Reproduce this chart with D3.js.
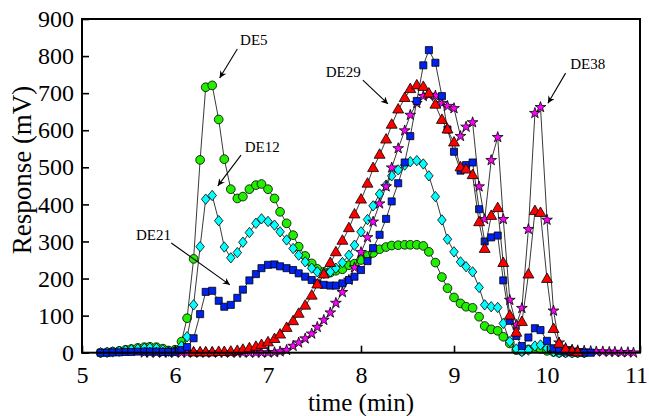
<!DOCTYPE html>
<html>
<head>
<meta charset="utf-8">
<script src="https://cdn.jsdelivr.net/npm/d3@7"></script>
<style>
body { margin: 0; background: #fff; }
svg text { font-family: "Liberation Serif", "Times New Roman", serif; fill: #000; }
</style>
</head>
<body>
<div id="svg-container"></div>
<script>
// sampling times (min)
var times = [5.20, 5.27, 5.33, 5.40, 5.47, 5.53, 5.60, 5.67, 5.73, 5.80, 5.87, 5.93,
	6.00, 6.07, 6.13, 6.20, 6.27, 6.33, 6.40, 6.47, 6.53, 6.60, 6.67, 6.73, 6.80, 6.87, 6.93,
	7.00, 7.07, 7.13, 7.20, 7.27, 7.33, 7.40, 7.47, 7.53, 7.60, 7.67, 7.73, 7.80, 7.87, 7.93,
	8.00, 8.07, 8.13, 8.20, 8.27, 8.33, 8.40, 8.47, 8.53, 8.60, 8.67, 8.73, 8.80, 8.87, 8.93,
	9.00, 9.07, 9.13, 9.20, 9.27, 9.33, 9.40, 9.47, 9.53, 9.60, 9.67, 9.73, 9.80, 9.87, 9.93,
	10.00, 10.07, 10.13, 10.20, 10.27, 10.33, 10.40, 10.47, 10.53, 10.60, 10.67, 10.73, 10.80, 10.87, 10.93];

// responses (mV), null = no point at that time
var de5 = [0, 1, 3, 5, 8, 10, 13, 15, 16, 15, 11, 6,
	8, 30, 93, 253, 520, 716, 721, 629, 522, 441, 416, 421, 441, 452, 455,
	441, 416, 380, 349, 317, 286, 261, 241, 226, 218, 216, 221, 225, 236, 240,
	250, 261, 269, 279, 285, 289, 290, 291, 291, 291, 288, 272, 243, 204, 174,
	149, 133, 124, 121, 97, 72, 63, 59, 43, 25, 7, 4, 9, 12, 10,
	5, 2, 0, 0, 0, 0, 0, null, null, null, null, null, null, null, null];

var de12 = [0, 1, 2, 4, 6, 8, 10, 12, 13, 12, 8, 4,
	5, 18, 43, 129, 286, 414, 424, 356, 285, 256, 270, 298, 324, 349, 361,
	354, 344, 326, 304, 281, 263, 245, 228, 218, 214, 218, 228, 243, 263, 290,
	326, 359, 396, 428, 452, 477, 493, 506, 515, 518, 509, 477, 421, 358, 306,
	272, 245, 232, 218, 176, 129, 124, 122, 79, 30, 10, 3, 7, 18, 21,
	12, 3, 0, 0, 0, 0, 0, null, null, null, null, null, null, null, null];

var de21 = [0, 0, 1, 1, 2, 2, 3, 3, 3, 3, 2, 2,
	3, 7, 15, 39, 104, 164, 167, 140, 124, 129, 148, 170, 195, 212, 228,
	237, 238, 233, 228, 223, 214, 205, 196, 187, 183, 181, 181, 187, 196, 205,
	223, 247, 282, 318, 361, 408, 457, 513, 584, 679, 775, 816, 782, 692, 602,
	542, 491, 506, 513, 387, 300, 311, 316, 195, 86, 45, 18, 41, 66, 61,
	32, 12, 5, 3, 2, 1, 0, 0, null, null, null, null, null, null, null];

var de29 = [null, null, null, null, null, null, null, null, null, null, null, null,
	null, null, null, 0, 0, 0, 0, 1, 1, 2, 4, 7, 11, 15, 20,
	27, 36, 48, 66, 84, 104, 126, 153, 183, 210, 241, 270, 301, 335, 372,
	412, 455, 497, 533, 574, 614, 655, 686, 710, 720, 716, 698, 668, 627, 601,
	566, 499, 493, 478, 351, 279, 368, 389, 241, 99, 53, 82, 210, 381, 376,
	198, 63, 23, 8, 3, 0, null, null, null, null, null, null, null, null, null];

var de38 = [null, null, null, null, null, null, null, 0, 0, 0, 0, 0,
	0, 0, 0, 0, 0, 0, 0, 0, 0, 0, 0, 0, 0, 0, 0,
	0, 1, 3, 7, 18, 27, 38, 51, 69, 88, 108, 134, 163, 196, 230,
	271, 311, 353, 402, 448, 499, 551, 599, 641, 673, 692, 695, 693, 673, 665,
	659, 584, 609, 621, 448, 360, 519, 581, 360, 142, 75, 120, 333, 646, 662,
	358, 113, 27, 12, 8, 6, 5, 4, 3, 3, 2, 2, 1, 1, 0];

var xTicks = [5, 6, 7, 8, 9, 10, 11];
var yTicks = [0, 100, 200, 300, 400, 500, 600, 700, 800, 900];

// callouts: label, text anchor point, arrow tail, arrow head (time, mV)
var callouts = [
	["DE5", [6.70, 830], [6.67, 819], [6.48, 741]],
	["DE12", [6.75, 541], [6.71, 533], [6.46, 450]],
	["DE21", [5.58, 304], [5.96, 296], [6.59, 183]],
	["DE29", [7.62, 744], [8.02, 735], [8.29, 671]],
	["DE38", [10.25, 765], [10.20, 754], [10.01, 673]]
];

var W = 649, H = 416;
var padL = 82, padR = 640, padT = 19, padB = 352.7;

var svg = d3.select('#svg-container')
	.append('svg')
	.attr('width', W)
	.attr('height', H);

var x = d3.scaleLinear().domain([5, 11]).range([padL, padR]);
var y = d3.scaleLinear().domain([0, 900]).range([padB, padT]);

// diamond a bit taller than wide
var diamondTall = {
	draw: function(ctx, size) {
		var h = Math.sqrt(size) * 0.62, w = h * 0.82;
		ctx.moveTo(0, -h); ctx.lineTo(w, 0); ctx.lineTo(0, h); ctx.lineTo(-w, 0); ctx.closePath();
	}
};

var series = [
	{ vals: de5, type: d3.symbolCircle, size: 60, color: '#22ee00' },
	{ vals: de12, type: diamondTall, size: 70, color: '#00ffff' },
	{ vals: de38, type: d3.symbolStar, size: 36, color: '#ff00ff' },
	{ vals: de21, type: d3.symbolSquare, size: 50, color: '#0022ee' },
	{ vals: de29, type: d3.symbolTriangle, size: 52, color: '#ff0000' }
];

var line = d3.line()
	.x(function(d){ return x(d[0]); })
	.y(function(d){ return y(d[1]); });

var plot = svg.append('g');

series.forEach(function(s) {
	var pts = times.map(function(t, i){ return [t, s.vals[i]]; })
		.filter(function(d){ return d[1] !== null; });
	plot.append('path')
		.datum(pts)
		.attr('d', line)
		.attr('fill', 'none')
		.attr('stroke', '#222')
		.attr('stroke-width', 0.9);
	plot.selectAll(null)
		.data(pts)
		.enter()
		.append('path')
		.attr('transform', function(d){ return 'translate(' + x(d[0]) + ',' + y(d[1]) + ')'; })
		.attr('d', d3.symbol().type(s.type).size(s.size))
		.attr('fill', s.color)
		.attr('stroke', '#000')
		.attr('stroke-width', 0.8);
});

// axes, ticks pointing inward
var yAxis = svg.append('g')
	.attr('transform', 'translate(' + padL + ',0)')
	.call(d3.axisLeft(y).tickValues(yTicks).tickSize(-7).tickPadding(8));
var xAxis = svg.append('g')
	.attr('transform', 'translate(0,' + padB + ')')
	.call(d3.axisBottom(x).tickValues(xTicks).tickSize(-7).tickPadding(13).tickFormat(d3.format('d')));

[yAxis, xAxis].forEach(function(a) {
	a.select('.domain').remove();
	a.selectAll('line').attr('stroke', '#000').attr('stroke-width', 1.6);
	a.selectAll('text').style('font-size', '24px').attr('fill', '#000')
		.style('font-family', '"Liberation Serif", "Times New Roman", serif');
});
// last x label sits against the right edge
xAxis.selectAll('text').filter(function(d){ return d === 11; }).attr('dx', '-4');

svg.append('rect')
	.attr('x', padL)
	.attr('y', padT)
	.attr('width', padR - padL)
	.attr('height', padB - padT)
	.attr('fill', 'none')
	.attr('stroke', '#000')
	.attr('stroke-width', 2);

svg.append('text')
	.attr('x', (padL + padR) / 2)
	.attr('y', 411)
	.attr('text-anchor', 'middle')
	.style('font-size', '25px')
	.text('time (min)');

svg.append('text')
	.attr('transform', 'translate(31,170) rotate(-90)')
	.attr('text-anchor', 'middle')
	.style('font-size', '27px')
	.text('Response (mV)');

// arrow heads
svg.append('defs').append('marker')
	.attr('id', 'arrow')
	.attr('viewBox', '0 0 10 10')
	.attr('refX', 10)
	.attr('refY', 5)
	.attr('markerWidth', 10)
	.attr('markerHeight', 7)
	.attr('markerUnits', 'userSpaceOnUse')
	.attr('orient', 'auto')
	.append('path')
	.attr('d', 'M0,0 L10,5 L0,10 L3,5 Z')
	.attr('fill', '#000');

callouts.forEach(function(c) {
	svg.append('text')
		.attr('x', x(c[1][0]))
		.attr('y', y(c[1][1]))
		.style('font-size', '15px')
		.text(c[0]);
	svg.append('line')
		.attr('x1', x(c[2][0]))
		.attr('y1', y(c[2][1]))
		.attr('x2', x(c[3][0]))
		.attr('y2', y(c[3][1]))
		.attr('stroke', '#000')
		.attr('stroke-width', 1.1)
		.attr('marker-end', 'url(#arrow)');
});
</script>
</body>
</html>
